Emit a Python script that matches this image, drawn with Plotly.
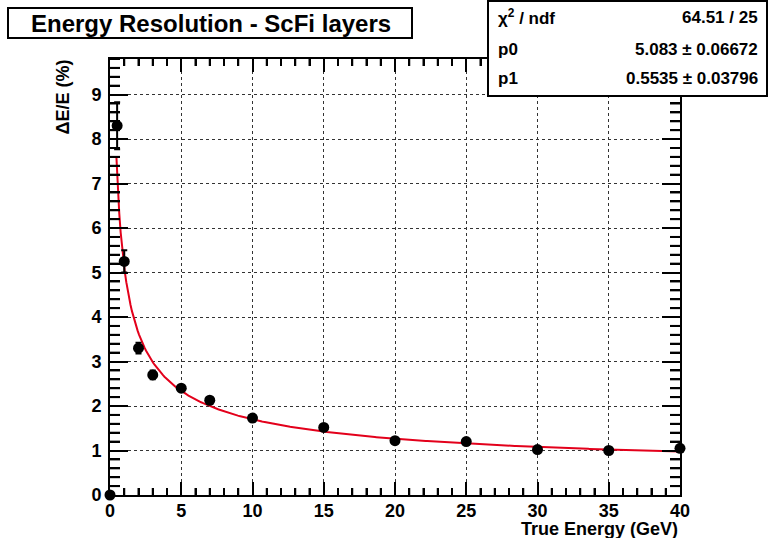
import numpy as np
import plotly.graph_objects as go

# Data
energy = [0, 0.5, 1, 2, 3, 5, 7, 10, 15, 20, 25, 30, 35, 40]
resolution = [0.0, 8.3, 5.25, 3.3, 2.7, 2.4, 2.13, 1.73, 1.52, 1.22, 1.2, 1.02, 1.0, 1.05]
res_err = [0.0, 0.53, 0.25, 0.12, 0.1, 0.06, 0.06, 0.05, 0.05, 0.04, 0.04, 0.04, 0.04, 0.04]

# Fit parameters (shown in the stats box)
p0 = 5.083
p1 = 0.5535
fit_range = (0.45, 40)

title_text = "Energy Resolution - ScFi layers"
stats_rows = [("χ<sup>2</sup> / ndf", "64.51 / 25"),
              ("p0", "5.083 ± 0.06672"),
              ("p1", "0.5535 ± 0.03796")]

x_range = [0, 40]
y_range = [0, 9.8]
x_major, x_minor_step = 5, 1
y_major, y_minor_step = 1, 0.2

W, H = 769, 538
L, R, T, B = 110, 680, 59, 495
PW, PH = R - L, B - T


def px(x):
    return (x - L) / PW


def py(y):
    return (B - y) / PH


FONT = "Liberation Sans, Arial, Helvetica, sans-serif"

fit_x = np.linspace(fit_range[0], fit_range[1], 400)
fit_y = np.sqrt((p0 / np.sqrt(fit_x)) ** 2 + p1 ** 2)

fig = go.Figure()
fig.add_trace(go.Scatter(
    x=fit_x, y=fit_y, mode="lines",
    line=dict(color="#e3001b", width=2), hoverinfo="skip", showlegend=False))
fig.add_trace(go.Scatter(
    x=energy, y=resolution, mode="markers",
    marker=dict(color="black", size=11),
    error_y=dict(type="data", array=res_err, color="black", thickness=2, width=3),
    cliponaxis=False, showlegend=False))

tickfont = dict(family=FONT, size=18, color="black", weight="bold")
X_MINOR_LEN, Y_MINOR_LEN = 7, 10

fig.update_layout(
    xaxis=dict(range=x_range, tickmode="linear", dtick=x_major, tick0=0,
               ticks="inside", ticklen=13, tickwidth=2, tickcolor="black",
               showline=True, linecolor="black", linewidth=2, mirror="allticks",
               showgrid=True, gridcolor="#333333", gridwidth=1, griddash="dot",
               zeroline=False, tickfont=tickfont, ticklabelstandoff=-2,
               minor=dict(ticks="inside", ticklen=X_MINOR_LEN, tickwidth=2,
                          tickcolor="black", dtick=x_minor_step, showgrid=False)),
    yaxis=dict(range=y_range, tickmode="linear", dtick=y_major, tick0=0,
               ticks="inside", ticklen=18, tickwidth=2, tickcolor="black",
               showline=True, linecolor="black", linewidth=2, mirror="allticks",
               showgrid=True, gridcolor="#333333", gridwidth=1, griddash="dot",
               zeroline=False, tickfont=tickfont, ticklabelstandoff=3,
               minor=dict(ticks="inside", ticklen=Y_MINOR_LEN, tickwidth=2,
                          tickcolor="black", dtick=y_minor_step, showgrid=False)),
)

# minor tick marks (axis decoration) placed in axis coordinates on all four sides
x_minor_vals = [v for v in np.arange(x_range[0], x_range[1] + 1e-9, x_minor_step)
                if abs(v / x_major - round(v / x_major)) > 1e-6]
y_minor_vals = [v for v in np.arange(y_range[0], y_range[1] + 1e-9, y_minor_step)
                if abs(v / y_major - round(v / y_major)) > 1e-6]

tick_line = dict(color="black", width=2)
shapes = []
xl = X_MINOR_LEN / PH
yl = Y_MINOR_LEN / PW
for v in x_minor_vals:
    shapes.append(dict(type="line", xref="x", yref="paper", x0=v, x1=v, y0=0, y1=xl,
                       line=tick_line, layer="above"))
    shapes.append(dict(type="line", xref="x", yref="paper", x0=v, x1=v, y0=1 - xl, y1=1,
                       line=tick_line, layer="above"))
for v in y_minor_vals:
    shapes.append(dict(type="line", xref="paper", yref="y", y0=v, y1=v, x0=0, x1=yl,
                       line=tick_line, layer="above"))
    shapes.append(dict(type="line", xref="paper", yref="y", y0=v, y1=v, x0=1 - yl, x1=1,
                       line=tick_line, layer="above"))

shapes += [
    # title box
    dict(type="rect", xref="paper", yref="paper",
         x0=px(8), x1=px(412), y0=py(38), y1=py(8),
         line=dict(color="black", width=2), fillcolor="white", layer="above"),
    # stats box
    dict(type="rect", xref="paper", yref="paper",
         x0=px(488), x1=px(767), y0=py(96), y1=py(1),
         line=dict(color="black", width=2), fillcolor="white", layer="above"),
]

annotations = [
    dict(text="<b>" + title_text + "</b>", xref="paper", yref="paper",
         x=px(211), y=py(23), xanchor="center", yanchor="middle", showarrow=False,
         font=dict(family=FONT, size=24, color="black")),
    dict(text="<b>True Energy (GeV)</b>", xref="paper", yref="paper",
         x=px(679), y=py(529), xanchor="right", yanchor="middle", showarrow=False,
         borderpad=0, font=dict(family=FONT, size=18, color="black")),
    dict(text="<b>ΔE/E (%)</b>", xref="paper", yref="paper",
         x=px(62), y=py(59), xanchor="center", yanchor="top", showarrow=False,
         textangle=-90, borderpad=0, font=dict(family=FONT, size=18, color="black")),
]

row_y = [17, 50, 78]
for (lab, val), yy in zip(stats_rows, row_y):
    annotations.append(dict(text="<b>" + lab + "</b>", xref="paper", yref="paper",
                            x=px(496), y=py(yy), xanchor="left", yanchor="middle",
                            showarrow=False, font=dict(family=FONT, size=17, color="black")))
    annotations.append(dict(text="<b>" + val + "</b>", xref="paper", yref="paper",
                            x=px(760), y=py(yy), xanchor="right", yanchor="middle",
                            showarrow=False, font=dict(family=FONT, size=17, color="black")))

fig.update_layout(
    width=W, height=H,
    margin=dict(l=L, r=W - R, t=T, b=H - B),
    paper_bgcolor="white", plot_bgcolor="white",
    shapes=shapes, annotations=annotations, showlegend=False,
)

fig.write_html("out.html")
